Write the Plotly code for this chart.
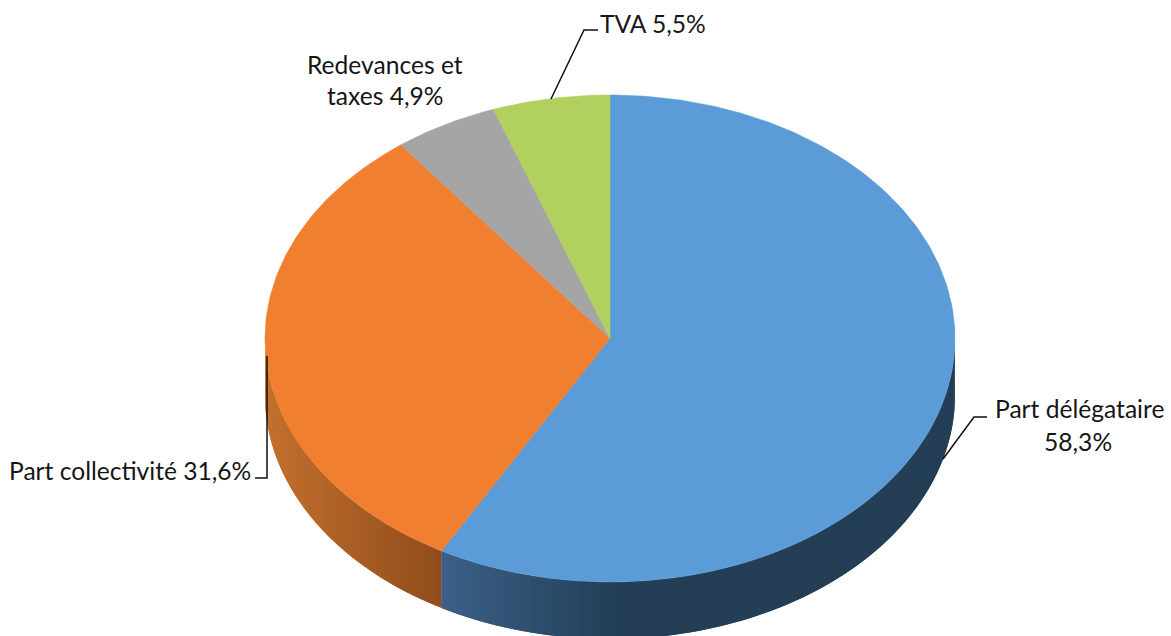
import math
import plotly.graph_objects as go

# Data
categories = ["Part délégataire", "Part collectivité", "Redevances et taxes", "TVA"]
values = [58.3, 31.6, 4.9, 5.5]
value_labels = ["58,3%", "31,6%", "4,9%", "5,5%"]
top_colors = ["#5B9BD7", "#F07F30", "#A5A5A5", "#B1D05F"]
wall_colors = [("#3A6088", "#233E55"), ("#C4702E", "#8F4C1B"), ("#A5A5A5", "#A5A5A5"), ("#B1D05F", "#B1D05F")]
shade_spans = [(442, 620), (266, 442), (0, 1), (0, 1)]

# Geometry of the tilted pie in picture pixels
W, H = 1171, 636
CX, CY, RX, RY, DEPTH = 610, 338.5, 345, 243.5, 57
FONT = dict(family="Lato, Carlito, Calibri, sans-serif", size=24.6, color="#161616")


def pt(theta, drop=0):
    return CX + RX * math.sin(theta), CY - RY * math.cos(theta) + drop


def rgb(hexstr):
    return [int(hexstr[i:i + 2], 16) for i in (1, 3, 5)]


def mix(a, b, t):
    ca, cb = rgb(a), rgb(b)
    return "rgb({},{},{})".format(*[round(p + (q - p) * t) for p, q in zip(ca, cb)])


total = sum(values)
edges = [0.0]
for v in values:
    edges.append(edges[-1] + v / total * 2 * math.pi)

fig = go.Figure()

# Side walls: overlapping strips painted in order, shaded across x
for i in range(len(values)):
    start, end = max(edges[i], math.pi / 2), min(edges[i + 1], 3 * math.pi / 2)
    if end <= start:
        continue
    n = max(2, int((end - start) / math.radians(1.0)))
    step = (end - start) / n
    for k in range(n):
        t0 = start + k * step
        t1 = min(end, t0 + 2 * step)
        arc = [t0 + (t1 - t0) * j / 6 for j in range(7)]
        xs = [pt(t)[0] for t in arc] + [pt(t)[0] for t in reversed(arc)] + [pt(t0)[0]]
        ys = [pt(t, DEPTH)[1] for t in arc] + [pt(t)[1] for t in reversed(arc)] + [pt(t0, DEPTH)[1]]
        a, b = shade_spans[i]
        xm = pt(t0 + step / 2)[0]
        f = min(1, max(0, (xm - a) / (b - a)))
        if i == 0:
            f = min(1, max(0, (442 - xm) / (442 - 620)))
        c = mix(wall_colors[i][0], wall_colors[i][1], f)
        fig.add_trace(go.Scatter(x=xs, y=ys, mode="lines", fill="toself", fillcolor=c,
                                 line=dict(width=0), hoverinfo="skip", showlegend=False))

# Top faces
for i in range(len(values)):
    n = max(4, int((edges[i + 1] - edges[i]) / math.radians(1)))
    arc = [edges[i] + (edges[i + 1] - edges[i]) * j / n for j in range(n + 1)]
    xs = [CX] + [pt(t)[0] for t in arc] + [CX]
    ys = [CY] + [pt(t)[1] for t in arc] + [CY]
    fig.add_trace(go.Scatter(x=xs, y=ys, mode="lines", fill="toself", fillcolor=top_colors[i],
                             line=dict(color=top_colors[i], width=0.5), name=categories[i],
                             hoverinfo="skip", showlegend=False))

# Leader lines
leaders = [
    ([943, 974, 987], [459, 417, 417]),
    ([267, 267, 255], [356, 478, 478]),
    ([551, 584, 598], [99, 30, 30]),
]
for lx, ly in leaders:
    fig.add_trace(go.Scatter(x=lx, y=ly, mode="lines", line=dict(color="#111111", width=1.5),
                             hoverinfo="skip", showlegend=False))

# Labels
label_lines = [
    (1079, 408, categories[0]),
    (1078, 441, value_labels[0]),
    (130, 470, f"{categories[1]} {value_labels[1]}"),
    (385, 64, "Redevances et"),
    (385, 95, f"taxes {value_labels[2]}"),
    (653, 23, f"{categories[3]} {value_labels[3]}"),
]
for x, y, text in label_lines:
    fig.add_annotation(x=x, y=y, text=text, showarrow=False, xanchor="center", yanchor="middle", font=FONT)

fig.update_layout(
    width=W, height=H, margin=dict(l=0, r=0, t=0, b=0),
    paper_bgcolor="white", plot_bgcolor="white", showlegend=False, hovermode=False,
    xaxis=dict(range=[0, W], visible=False, fixedrange=True),
    yaxis=dict(range=[H, 0], visible=False, fixedrange=True),
)
fig.write_html("out.html", config=dict(displayModeBar=False),
               post_script="document.body.style.margin='0';")
